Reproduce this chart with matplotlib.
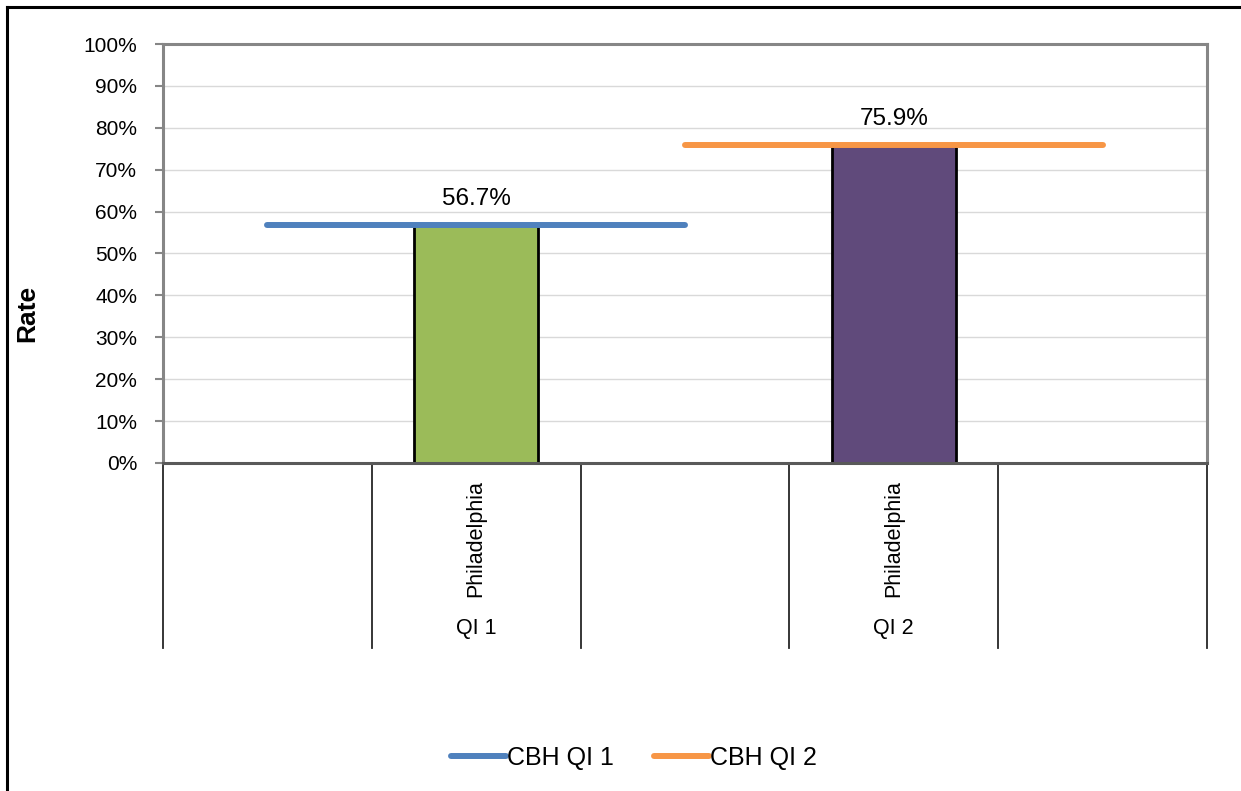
import numpy as np
import matplotlib
matplotlib.use("Agg")
import matplotlib.pyplot as plt
from matplotlib.lines import Line2D
from matplotlib.transforms import blended_transform_factory
from matplotlib.ticker import PercentFormatter

plt.rcParams["font.family"] = ["Liberation Sans", "DejaVu Sans"]

# Category slots on the x axis (two-level labels)
site_labels = ["", "Philadelphia", "", "Philadelphia", ""]
group_labels = ["", "QI 1", "", "QI 2", ""]

# Bar values per slot (percent)
bar_values = [np.nan, 56.7, np.nan, 75.9, np.nan]
bar_colors = ["none", "#9BBB59", "none", "#604A7B", "none"]

# Benchmark lines (percent)
cbh_qi1 = [56.7, 56.7, 56.7, np.nan, np.nan]
cbh_qi2 = [np.nan, np.nan, 75.9, 75.9, 75.9]
series_names = ["CBH QI 1", "CBH QI 2"]
series_colors = ["#4F81BD", "#F79646"]

y_ticks = list(range(0, 101, 10))

W, H = 1241, 791
fig = plt.figure(figsize=(W / 100, H / 100), dpi=100)
ax = fig.add_axes([163 / W, 1 - 463 / H, (1207 - 163) / W, (463 - 44) / H])

x = np.arange(len(site_labels))
ax.set_xlim(-0.5, len(site_labels) - 0.5)
ax.set_ylim(0, 100)

# Bars
for xi, v, c in zip(x, bar_values, bar_colors):
    if not np.isnan(v):
        ax.bar(xi, v, width=0.595, color=c, edgecolor="black", linewidth=2, zorder=3)

# Benchmark lines
lines = []
for vals, col, name in zip([cbh_qi1, cbh_qi2], series_colors, series_names):
    ln, = ax.plot(x, vals, color=col, lw=4.3, solid_capstyle="round", label=name, zorder=4)
    lines.append(ln)

# Value labels above bars
for xi, v in zip(x, bar_values):
    if not np.isnan(v):
        ax.annotate(f"{v:.1f}%", xy=(xi, v), xytext=(0, 19), textcoords="offset points",
                    ha="center", va="center", fontsize=17.5, color="black", zorder=5)

# Y axis
ax.set_yticks(y_ticks)
ax.yaxis.set_major_formatter(PercentFormatter(decimals=0))
ax.tick_params(axis="y", direction="out", length=5.5, width=1.5, color="#868686",
               pad=13, labelsize=15, labelcolor="black")
ax.grid(axis="y", color="#D9D9D9", lw=1, zorder=0)
ax.set_axisbelow(True)

# X axis: no default ticks, labels drawn manually
ax.set_xticks([])
for side in ["left", "top", "right"]:
    ax.spines[side].set_color("#868686")
    ax.spines[side].set_linewidth(2.2)
ax.spines["bottom"].set_color("#595959")
ax.spines["bottom"].set_linewidth(2.2)
ax.spines["bottom"].set_zorder(6)

trans = blended_transform_factory(ax.transData, ax.transAxes)
depth = (648 - 463) / (463 - 44)
for b in np.arange(-0.5, len(site_labels), 1.0):
    ax.add_line(Line2D([b, b], [0, -depth], transform=trans, color="#262626", lw=1.3,
                       clip_on=False))

for xi, s, g in zip(x, site_labels, group_labels):
    if s:
        ax.annotate(s, xy=(xi, 0), xycoords=trans, xytext=(0, -12), textcoords="offset points",
                    rotation=90, ha="center", va="top", fontsize=15.5, annotation_clip=False)
    if g:
        ax.annotate(g, xy=(xi, 0), xycoords=trans, xytext=(0, -119), textcoords="offset points",
                    ha="center", va="center", fontsize=15.5, annotation_clip=False)

# Y axis title
fig.text(27 / W, 1 - 313 / H, "Rate", rotation=90, ha="center", va="center",
         fontsize=19, fontweight="bold")

# Legend
fig.legend(handles=lines, labels=series_names, loc="center",
           bbox_to_anchor=(634 / W, 1 - 758 / H), ncol=2, frameon=False,
           fontsize=18, handlelength=2.2, handletextpad=0.05, columnspacing=1.6)

# Outer chart border
fig.add_artist(Line2D([7 / W, 7 / W], [0, 1 - 7 / H], transform=fig.transFigure,
                      color="black", lw=2.2))
fig.add_artist(Line2D([7 / W, 1], [1 - 7 / H, 1 - 7 / H], transform=fig.transFigure,
                      color="black", lw=2.2))

fig.savefig("out.png", dpi=100, facecolor="white")
